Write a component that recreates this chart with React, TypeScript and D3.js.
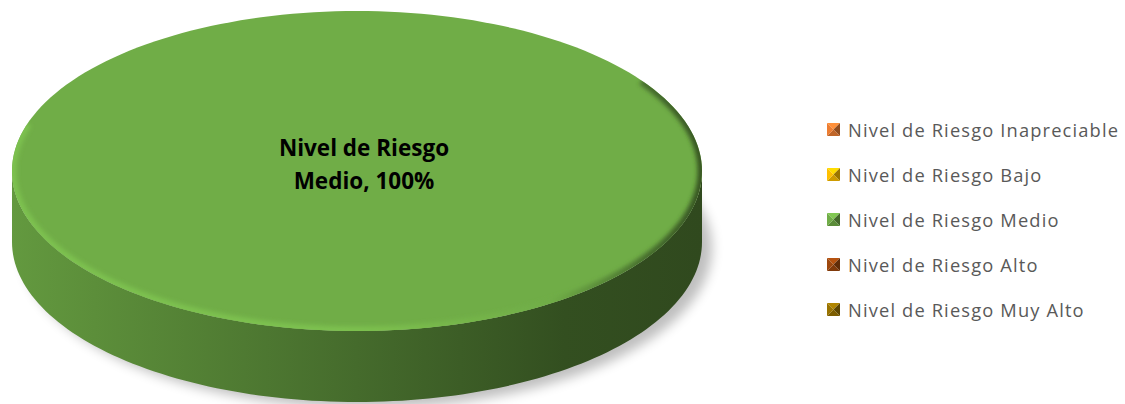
import React from "react";
import * as d3 from "d3";

const categories = [
  "Nivel de Riesgo Inapreciable",
  "Nivel de Riesgo Bajo",
  "Nivel de Riesgo Medio",
  "Nivel de Riesgo Alto",
  "Nivel de Riesgo Muy Alto",
];
const values = [0, 0, 100, 0, 0];
const colors = ["#ed7d31", "#ffc000", "#70ad47", "#9e480e", "#997300"];
const labelLines = ["Nivel de Riesgo", "Medio, 100%"];

const W = 1125;
const H = 404;
const cx = 357;
const cy = 171;
const rx = 345;
const ry = 160;
const depth = 71;

function pt(a: number, dy = 0): [number, number] {
  return [cx + rx * Math.sin(a), cy + dy - ry * Math.cos(a)];
}

function arcTop(a0: number, a1: number): string {
  const n = Math.max(8, Math.ceil(((a1 - a0) / (2 * Math.PI)) * 200));
  const pts = d3.range(n + 1).map((i) => pt(a0 + ((a1 - a0) * i) / n));
  const full = a1 - a0 >= 2 * Math.PI - 1e-6;
  const line = d3.line()(pts as [number, number][]) || "";
  return full ? line + "Z" : `M${cx},${cy}` + line.replace(/^M/, "L") + "Z";
}

function arcSide(a0: number, a1: number): string | null {
  const s = Math.max(a0, Math.PI / 2);
  const e = Math.min(a1, (3 * Math.PI) / 2);
  if (e <= s) return null;
  const n = 120;
  const top = d3.range(n + 1).map((i) => pt(s + ((e - s) * i) / n));
  const bot = d3.range(n + 1).map((i) => pt(e - ((e - s) * i) / n, depth));
  return (d3.line()([...top, ...bot] as [number, number][]) || "") + "Z";
}

function Marker({ x, y, color }: { x: number; y: number; color: string }) {
  const s = 13;
  const c = d3.color(color)!;
  const light = c.brighter(0.4).formatHex();
  const dark = c.darker(1.4).formatHex();
  const mid = c.darker(0.6).formatHex();
  const mx = x + s / 2;
  const my = y + s / 2;
  return (
    <g>
      <path d={`M${x},${y}L${x + s},${y}L${mx},${my}Z`} fill={light} />
      <path d={`M${x + s},${y}L${x + s},${y + s}L${mx},${my}Z`} fill={dark} />
      <path d={`M${x},${y + s}L${x + s},${y + s}L${mx},${my}Z`} fill={mid} />
      <path d={`M${x},${y}L${x},${y + s}L${mx},${my}Z`} fill={color} />
    </g>
  );
}

export default function App() {
  const pie = d3
    .pie<number>()
    .sort(null)
    .startAngle(0)
    .endAngle(2 * Math.PI)(values);
  const arcs = pie.filter((d) => d.value > 0);
  const legendY = d3.scalePoint<string>().domain(categories).range([130, 310]);

  return (
    <svg
      width={W}
      height={H}
      style={{ position: "absolute", left: 0, top: 0, display: "block" }}
    >
      <defs>
        <filter id="shadow" x="-20%" y="-20%" width="140%" height="140%">
          <feGaussianBlur stdDeviation="6" />
        </filter>
        <filter id="rimblur" x="-10%" y="-10%" width="120%" height="120%">
          <feGaussianBlur stdDeviation="2.2" />
        </filter>
        {arcs.map((d, i) => {
          const c = d3.color(colors[d.index])!;
          return (
            <linearGradient
              key={i}
              id={`side${d.index}`}
              gradientUnits="userSpaceOnUse"
              x1={cx - rx}
              x2={cx + rx}
              y1={0}
              y2={0}
            >
              <stop offset="0" stopColor={c.darker(0.35).formatHex()} />
              <stop offset="0.12" stopColor={c.darker(0.55).formatHex()} />
              <stop offset="0.5" stopColor={c.darker(1.35).formatHex()} />
              <stop offset="0.8" stopColor={c.darker(2.2).formatHex()} />
              <stop offset="1" stopColor={c.darker(2.4).formatHex()} />
            </linearGradient>
          );
        })}
        {arcs.map((d, i) => {
          const c = d3.color(colors[d.index])!;
          return (
            <linearGradient
              key={"r" + i}
              id={`rim${d.index}`}
              gradientUnits="userSpaceOnUse"
              x1={cx - rx}
              x2={cx + rx}
              y1={0}
              y2={0}
            >
              <stop offset="0" stopColor={c.brighter(0.3).formatHex()} />
              <stop offset="0.5" stopColor={c.brighter(0.3).formatHex()} />
              <stop offset="0.78" stopColor={c.formatHex()} />
              <stop offset="0.92" stopColor={c.darker(1.3).formatHex()} />
              <stop offset="1" stopColor={c.darker(2).formatHex()} />
            </linearGradient>
          );
        })}
        <clipPath id="topclip">
          <path d={arcTop(0, 2 * Math.PI)} />
        </clipPath>
      </defs>

      <path
        d={arcTop(0, 2 * Math.PI)}
        transform={`translate(10, ${depth + 6})`}
        fill="#000"
        opacity={0.25}
        filter="url(#shadow)"
      />

      {arcs.map((d, i) => {
        const side = arcSide(d.startAngle, d.endAngle);
        return side ? (
          <path key={"s" + i} d={side} fill={`url(#side${d.index})`} />
        ) : null;
      })}

      {arcs.map((d, i) => (
        <g key={"t" + i}>
          <path d={arcTop(d.startAngle, d.endAngle)} fill={colors[d.index]} />
          <g clipPath="url(#topclip)">
            <path
              d={
                d3.line()(
                  d3
                    .range(121)
                    .map((k) => pt(Math.PI / 2 - 0.6 + ((Math.PI + 0.9) * k) / 120)) as [
                    number,
                    number
                  ][]
                ) || ""
              }
              fill="none"
              stroke={`url(#rim${d.index})`}
              strokeWidth={9}
              filter="url(#rimblur)"
            />
          </g>
        </g>
      ))}

      {arcs.map((d, i) => {
        const full = d.endAngle - d.startAngle >= 2 * Math.PI - 1e-6;
        const mid = (d.startAngle + d.endAngle) / 2;
        const [lx, ly] = full ? [cx + 7, cy] : pt(mid);
        return (
          <text
            key={"l" + i}
            x={lx}
            y={ly - 15}
            textAnchor="middle"
            fontFamily="'Open Sans', sans-serif"
            fontWeight="bold"
            fontSize={22.5}
            fill="#000"
          >
            {labelLines.map((t, k) => (
              <tspan key={k} x={lx} dy={k === 0 ? 0 : 33}>
                {t}
              </tspan>
            ))}
          </text>
        );
      })}

      {categories.map((c, i) => {
        const y = legendY(c)!;
        return (
          <g key={c}>
            <Marker x={827} y={y - 7} color={colors[i]} />
            <text
              x={848}
              y={y + 7}
              fontFamily="'Open Sans', sans-serif"
              fontSize={18.3}
              letterSpacing={1.15}
              fill="#595959"
            >
              {c}
            </text>
          </g>
        );
      })}
    </svg>
  );
}
